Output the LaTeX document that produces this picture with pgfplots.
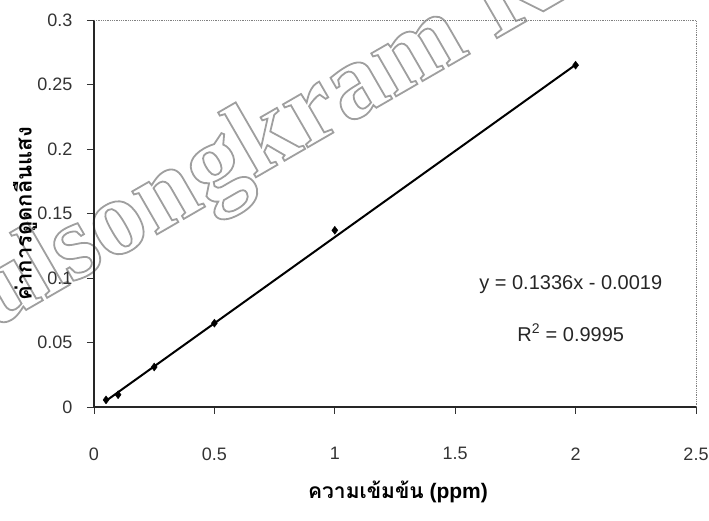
\documentclass[border=0pt]{standalone}
\usepackage{fontspec}
\setmainfont{Liberation Sans}
\newfontfamily\thaifont[Script=Thai]{Loma}
\newfontfamily\wmfont{Liberation Serif}
\usepackage{pgfplots}
\pgfplotsset{compat=1.18}
\usetikzlibrary{calc}
\begin{document}
\begin{tikzpicture}
% watermark (outlined text, behind the chart)
\node[rotate=30, anchor=base west, inner sep=0, text=gray!75,
      font=\wmfont\bfseries\fontsize{108}{108}\selectfont]
      at (-236pt,0pt) {\special{pdf:literal direct 1 Tr 1.8 w}Pibulsongkram Rajabhat\special{pdf:literal direct 0 Tr}};
\begin{axis}[name=ax, scale only axis, width=602pt, height=387pt,
  xmin=0, xmax=2.5, ymin=0, ymax=0.3,
  xtick={0,0.5,1,1.5,2,2.5}, ytick={0,0.05,0.1,0.15,0.2,0.25,0.3},
  xticklabels={0,0.5,1,1.5,2,2.5}, yticklabels={0,0.05,0.1,0.15,0.2,0.25,0.3},
  xtick pos=left, ytick pos=left, tick align=outside, major tick length=7pt,
  tick style={black!80, line width=0.8pt},
  axis line style={draw=none},
  ticklabel style={font=\fontsize{18}{21}\selectfont, text=black!80},
  yticklabel style={xshift=-11pt},
  xticklabel style={yshift=-30pt},
  clip=false,
]
\draw[black!85, line width=1.3pt] (rel axis cs:0,1) -- (rel axis cs:0,0) -- (rel axis cs:1,0);
\draw[gray, densely dotted, line width=0.8pt] (rel axis cs:0,1) -- (rel axis cs:1,1) -- (rel axis cs:1,0);
\addplot[black, line width=2pt] coordinates {(0.05,0.00478) (2,0.2653)};
\addplot[only marks, mark=diamond*, mark size=4pt, black] coordinates {
  (0.05,0.0055) (0.1,0.0095) (0.25,0.031) (0.5,0.065) (1,0.137) (2,0.265)};
\node[font=\fontsize{20}{24}\selectfont, text=black!85] at (axis cs:1.98,0.0946) {y = 0.1336x - 0.0019};
\node[font=\fontsize{20}{24}\selectfont, text=black!85] at (axis cs:1.98,0.0574) {R\textsuperscript{2} = 0.9995};
\end{axis}
\node[font=\fontsize{21}{24}\selectfont] at ($(ax.south)+(3pt,-85pt)$) {{\thaifont\bfseries ความเข้มข้น} {\bfseries (ppm)}};
\node[rotate=90, font=\thaifont\bfseries\fontsize{22}{25}\selectfont] at ($(ax.west)+(-69pt,0)$) {ค่าการดูดกลืนแสง};
\pgfresetboundingbox
\path ($(ax.south west)+(-94pt,-114pt)$) rectangle ($(ax.north east)+(13pt,20pt)$);
\end{tikzpicture}
\end{document}
